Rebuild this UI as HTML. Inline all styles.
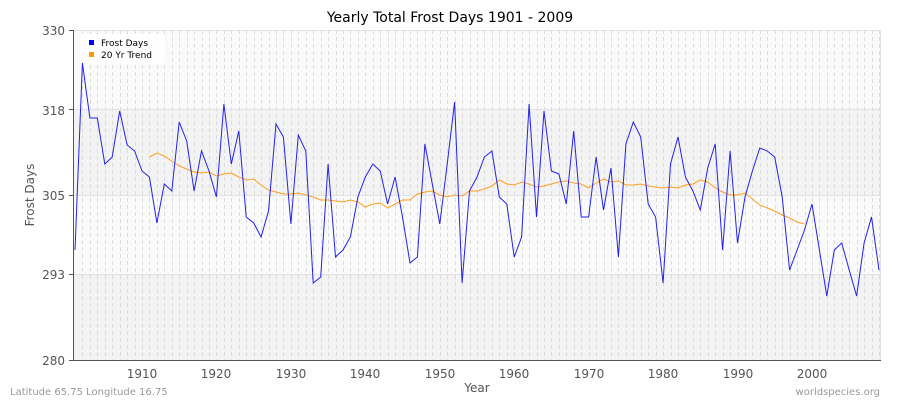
<!DOCTYPE html>
<html><head><meta charset="utf-8"><style>
body{margin:0;background:#fff;font-family:"Liberation Sans",sans-serif}
svg text{font-family:"DejaVu Sans","Liberation Sans",sans-serif}
</style></head><body>
<svg id="s" width="900" height="400" xmlns="http://www.w3.org/2000/svg">
<rect width="900" height="400" fill="#fff"/>
<text x="450" y="22" text-anchor="middle" font-size="14" fill="#000">Yearly Total Frost Days 1901 - 2009</text>
<rect x="73" y="30" width="808" height="330" fill="#fafafa"/>
<rect x="73" y="109" width="808" height="86" fill="#f3f3f3"/>
<rect x="73" y="274" width="808" height="86" fill="#f3f3f3"/>
<g id="grid" stroke="#dcdcdc" stroke-width="1" stroke-dasharray="4,3"></g>
<g stroke="#e2e2e2" stroke-width="1">
<line x1="73" y1="30.5" x2="881" y2="30.5"/><line x1="73" y1="109.5" x2="881" y2="109.5"/><line x1="73" y1="195.5" x2="881" y2="195.5"/><line x1="73" y1="274.5" x2="881" y2="274.5"/>
<line x1="880.5" y1="30" x2="880.5" y2="360"/>
</g>
<line x1="73.5" y1="30" x2="73.5" y2="360" stroke="#555"/>
<line x1="73" y1="360.5" x2="881" y2="360.5" stroke="#555"/>
<g font-size="12" fill="#555" text-anchor="end">
<text x="65" y="35">330</text><text x="65" y="115">318</text><text x="65" y="200">305</text><text x="65" y="279">293</text><text x="65" y="365">280</text>
</g>
<g stroke="#555"><line x1="69" y1="30.5" x2="73" y2="30.5"/><line x1="69" y1="109.5" x2="73" y2="109.5"/><line x1="69" y1="195.5" x2="73" y2="195.5"/><line x1="69" y1="274.5" x2="73" y2="274.5"/><line x1="69" y1="360.5" x2="73" y2="360.5"/></g>
<g font-size="12" fill="#555" text-anchor="middle">
<text x="142" y="378">1910</text><text x="216" y="378">1920</text><text x="291" y="378">1930</text><text x="365" y="378">1940</text><text x="440" y="378">1950</text><text x="514" y="378">1960</text><text x="589" y="378">1970</text><text x="663" y="378">1980</text><text x="738" y="378">1990</text><text x="812" y="378">2000</text>
</g>
<text x="477" y="392" text-anchor="middle" font-size="12" fill="#555">Year</text>
<text x="34" y="195" text-anchor="middle" font-size="12" fill="#555" transform="rotate(-90 34 195)">Frost Days</text>
<text x="10" y="395" font-size="10" fill="#999">Latitude 65.75 Longitude 16.75</text>
<text x="880" y="395" text-anchor="end" font-size="10" fill="#999">worldspecies.org</text>
<rect x="80" y="34" width="85" height="30" rx="3" fill="#fff" opacity="0.9"/>
<rect x="89" y="40" width="5" height="5" fill="#0000ff"/>
<text x="101" y="46" font-size="9" fill="#000">Frost Days</text>
<rect x="89" y="52" width="5" height="5" fill="#ff9900"/>
<text x="101" y="58" font-size="9" fill="#000">20 Yr Trend</text>
<polyline id="trend" fill="none" stroke="#ffa020" stroke-width="1"/>
<polyline id="fd" fill="none" stroke="#2222ee" stroke-width="1"/>
</svg>
<script>
var g=document.getElementById('grid'),s='';
for(var y=1902;y<=2009;y++){var x=Math.round(75+(y-1901)*7.444)+0.5;s+='<line x1="'+x+'" y1="30" x2="'+x+'" y2="360"/>';}
g.innerHTML=s;
var fd=[250,63,118,118,164,157,111,145,151,171,177,223,184,191,122,141,191,151,171,197,104,164,131,217,223,237,211,124,137,224,135,151,283,277,164,257,250,237,197,177,164,171,204,177,217,263,257,144,184,224,164,102,283,191,177,157,151,197,204,257,237,104,217,111,171,174,204,131,217,217,157,210,168,257,144,122,137,204,217,283,164,137,177,191,210,168,144,250,151,243,197,171,148,151,157,197,270,250,230,204,250,296,250,243,270,296,243,217,270];
var tr=[157,153,156,161,166,169,172,173,172,176,174,173,177,180,179,185,190,192,194,194,193,195,197,200,200,201,202,200,202,207,204,203,208,204,200,200,194,192,191,195,197,195,196,191,191,189,186,180,184,185,182,184,187,186,184,182,181,183,184,188,183,179,182,181,185,185,184,186,187,188,187,188,185,184,180,182,188,192,195,195,193,199,205,208,211,215,218,222,224];
function X(i){return (75+i*7.444).toFixed(1);}
document.getElementById('fd').setAttribute('points',fd.map(function(v,i){return X(i)+','+v}).join(' '));
document.getElementById('trend').setAttribute('points',tr.map(function(v,i){return X(i+10)+','+v}).join(' '));
</script>
</body></html>
